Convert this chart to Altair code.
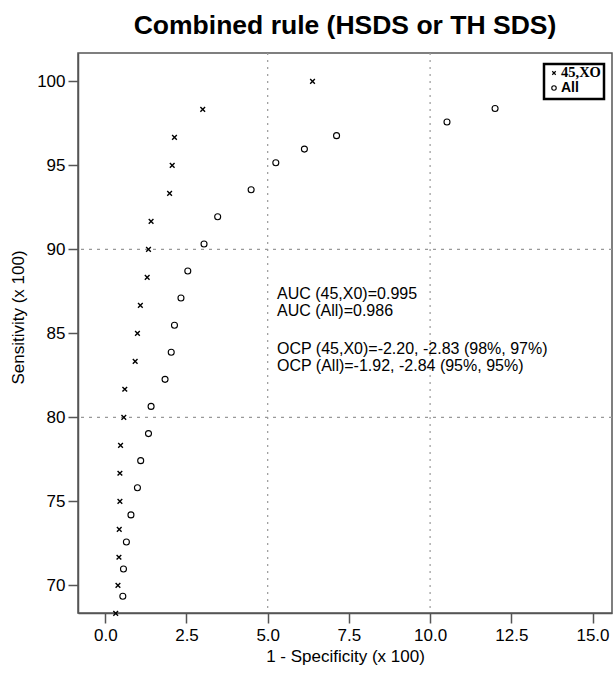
import altair as alt
import pandas as pd

# 45,X0 series (1 - specificity x100, sensitivity x100)
x_45x0 = [6.38, 3.00, 2.13, 2.06, 1.98, 1.41, 1.33, 1.29, 1.08, 0.99,
          0.92, 0.60, 0.57, 0.47, 0.45, 0.45, 0.43, 0.42, 0.39, 0.32]
y_45x0 = [100.0, 98.33, 96.67, 95.0, 93.33, 91.67, 90.0, 88.33, 86.67, 85.0,
          83.33, 81.67, 80.0, 78.33, 76.67, 75.0, 73.33, 71.67, 70.0, 68.33]

# All series
x_all = [12.0, 10.52, 7.12, 6.13, 5.25, 4.49, 3.46, 3.04, 2.54, 2.33, 2.13,
         2.03, 1.84, 1.41, 1.33, 1.09, 0.99, 0.79, 0.65, 0.56, 0.54]
y_all = [98.39, 97.58, 96.77, 95.97, 95.16, 93.55, 91.94, 90.32, 88.71, 87.10, 85.48,
         83.87, 82.26, 80.65, 79.03, 77.42, 75.81, 74.19, 72.58, 70.97, 69.35]

x_ticks = [0, 2.5, 5, 7.5, 10, 12.5, 15]
y_ticks = [70, 75, 80, 85, 90, 95, 100]
x_ref = [5, 10]
y_ref = [80, 90]

annot_auc = ["AUC (45,X0)=0.995", "AUC (All)=0.986"]
annot_ocp = ["OCP (45,X0)=-2.20, -2.83 (98%, 97%)", "OCP (All)=-1.92, -2.84 (95%, 95%)"]

FONT = "Liberation Sans"

df45 = pd.DataFrame({"x": x_45x0, "y": y_45x0})
dfall = pd.DataFrame({"x": x_all, "y": y_all})

xs = alt.Scale(domain=[-0.84, 15.6], nice=False, zero=False)
ys = alt.Scale(domain=[68.35, 101.69], nice=False, zero=False)

CROSS = "M-1,-1L1,1M1,-1L-1,1"

base_x = alt.X("x:Q", scale=xs,
               axis=alt.Axis(values=x_ticks, format=".1f", title="1 - Specificity (x 100)",
                             grid=False, tickSize=10, labelPadding=4, titlePadding=5))
base_y = alt.Y("y:Q", scale=ys,
               axis=alt.Axis(values=y_ticks, title="Sensitivity (x 100)", grid=False,
                             tickSize=10, labelPadding=3, titleY=264, titlePadding=9))

vrules = alt.Chart(pd.DataFrame({"x": x_ref})).mark_rule(
    color="#999999", strokeDash=[2, 5], strokeWidth=1.2
).encode(x=alt.X("x:Q", scale=xs))
hrules = alt.Chart(pd.DataFrame({"y": y_ref})).mark_rule(
    color="#999999", strokeDash=[3, 5], strokeWidth=1.2
).encode(y=alt.Y("y:Q", scale=ys))

pts45 = alt.Chart(df45).mark_point(
    shape=CROSS, size=22, color="black", strokeWidth=1.4, filled=False, opacity=1
).encode(x=base_x, y=base_y)
ptsall = alt.Chart(dfall).mark_point(
    shape="circle", size=36, color="black", strokeWidth=1.1, filled=False, opacity=1
).encode(x=alt.X("x:Q", scale=xs), y=alt.Y("y:Q", scale=ys))

auc_txt = alt.Chart(pd.DataFrame({"t": ["\n".join(annot_auc)]})).mark_text(
    align="left", baseline="top", font=FONT, fontSize=16, lineHeight=16.5,
    lineBreak="\n", color="black"
).encode(x=alt.value(199), y=alt.value(233), text="t:N")
ocp_txt = alt.Chart(pd.DataFrame({"t": ["\n".join(annot_ocp)]})).mark_text(
    align="left", baseline="top", font=FONT, fontSize=16, lineHeight=16.5,
    lineBreak="\n", color="black"
).encode(x=alt.value(199), y=alt.value(288), text="t:N")

# legend box
legend_box = alt.Chart(pd.DataFrame({"k": [0]})).mark_rect(
    fill="white", stroke="black", strokeWidth=2.5
).encode(x=alt.value(466), x2=alt.value(526), y=alt.value(11), y2=alt.value(46))
leg_labels = ["45,XO", "All"]
leg_cross = alt.Chart(pd.DataFrame({"k": [0]})).mark_point(
    shape=CROSS, size=12, color="black", strokeWidth=1.2, filled=False, opacity=1
).encode(x=alt.value(476), y=alt.value(20))
leg_circ = alt.Chart(pd.DataFrame({"k": [0]})).mark_point(
    shape="circle", size=20, color="black", strokeWidth=1.1, filled=False, opacity=1
).encode(x=alt.value(476), y=alt.value(35))
leg_t1 = alt.Chart(pd.DataFrame({"t": [leg_labels[0]]})).mark_text(
    align="left", baseline="middle", font="Liberation Serif", fontWeight="bold",
    fontSize=14.5, color="black"
).encode(x=alt.value(483), y=alt.value(20), text="t:N")
leg_t2 = alt.Chart(pd.DataFrame({"t": [leg_labels[1]]})).mark_text(
    align="left", baseline="middle", font="Liberation Sans", fontWeight="bold",
    fontSize=14, color="black"
).encode(x=alt.value(483), y=alt.value(35), text="t:N")

chart = alt.layer(
    vrules, hrules, pts45, ptsall, auc_txt, ocp_txt,
    legend_box, leg_cross, leg_circ, leg_t1, leg_t2
).properties(
    width=534, height=560,
    title=alt.Title("Combined rule (HSDS or TH SDS)", font=FONT, fontSize=26.5,
                    fontWeight="bold", color="black", anchor="middle", offset=13),
    autosize=alt.AutoSizeParams(type="none"),
    padding={"left": 78, "top": 53, "right": 1, "bottom": 61},
    background="white",
).configure_view(
    stroke="#555555", strokeWidth=1.5
).configure_axis(
    labelFont=FONT, titleFont=FONT, labelFontSize=17, titleFontSize=17,
    labelColor="black", titleColor="black", titleFontWeight="normal",
    domainColor="#555555", tickColor="#555555", domainWidth=1.5, tickWidth=1.5,
)

chart.save("out.html", embed_options={"renderer": "svg", "actions": False})
